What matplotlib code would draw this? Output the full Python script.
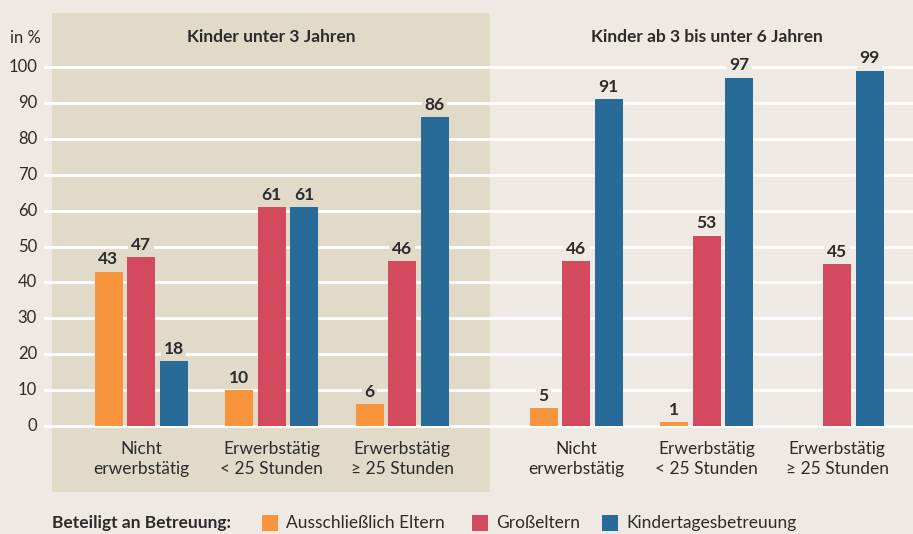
import numpy as np
import matplotlib
matplotlib.use("Agg")
import matplotlib.pyplot as plt
from matplotlib.patches import Rectangle

# Daten
kategorien = ["Nicht\nerwerbstätig", "Erwerbstätig\n< 25 Stunden", "Erwerbstätig\n≥ 25 Stunden"]
panels = ["Kinder unter 3 Jahren", "Kinder ab 3 bis unter 6 Jahren"]
serien = ["Ausschließlich Eltern", "Großeltern", "Kindertagesbetreuung"]
eltern = [43, 10, 6, 5, 1, 0]
grosseltern = [47, 61, 46, 46, 53, 45]
kita = [18, 61, 86, 91, 97, 99]
y_ticks = [0, 10, 20, 30, 40, 50, 60, 70, 80, 90, 100]

farben = ["#f7943c", "#d34a5f", "#296b98"]
bg = "#eeeae3"
panel_bg = "#e1dac8"
txt = "#2b2b2b"

plt.rcParams['font.family'] = ['Lato', 'DejaVu Sans']

W, H = 913, 534
fig = plt.figure(figsize=(W / 100, H / 100), dpi=100, facecolor=bg)

# Achse in Pixelkoordinaten: x 44..913, y 13..492
ax = fig.add_axes([44 / W, (H - 492) / H, (913 - 44) / W, (492 - 13) / H])
ax.set_facecolor(bg)
for s in ax.spines.values():
    s.set_visible(False)

px_y = 3.59  # Pixel pro Prozentpunkt
y0_px = 426
ax.set_ylim(-(492 - y0_px) / px_y, (y0_px - 13) / px_y)
step = 130.5
ax.set_xlim((44 - 141) / step, (913 - 141) / step)

x = np.array([0, 1, 2, 3 + 1 / 3, 4 + 1 / 3, 5 + 1 / 3])
bw = 28 / step
off = 32.5 / step

# Hintergrund linkes Panel
ax.axvspan((52 - 141) / step, (490 - 141) / step, color=panel_bg, zorder=0, lw=0)

for t in y_ticks:
    ax.axhline(t, xmin=0, xmax=1, color="white", lw=2, zorder=1)

ax.set_yticks([])
ax.set_xticks([])
for t in y_ticks:
    fig.text(37 / W, 1 - (y0_px - t * px_y) / H, str(t), ha="right", va="center",
             fontsize=12, color=txt)
fig.text(10 / W, 1 - 38 / H, "in %", ha="left", va="center", fontsize=12, color=txt)

for i, (werte, f) in enumerate(zip([eltern, grosseltern, kita], farben)):
    xs = x + (i - 1) * off
    ax.bar(xs, werte, width=bw, color=f, zorder=2, lw=0)
    for j, (xx, v) in enumerate(zip(xs, werte)):
        if v == 0:
            continue
        box = panel_bg if j < 3 else bg
        ax.text(xx, v + 1.2, str(v), ha="center", va="bottom", fontsize=12.5,
                fontweight="bold", color=txt, zorder=3,
                bbox=dict(boxstyle="square,pad=0.15", fc=box, ec="none"))

# Kategorien
for j, xx in enumerate(x):
    ax.text(xx, -4.3, kategorien[j % 3], ha="center", va="top", fontsize=12.5,
            color=txt, linespacing=1.3)

# Panel-Titel
ax.text(1, (y0_px - 37) / px_y, panels[0], ha="center", va="center", fontsize=12.5,
        fontweight="bold", color=txt)
ax.text(4 + 1 / 3, (y0_px - 37) / px_y, panels[1], ha="center", va="center",
        fontsize=12.5, fontweight="bold", color=txt)

# Legende
ly = 1 - 523 / H
fig.text(52 / W, ly, "Beteiligt an Betreuung:", ha="left", va="center", fontsize=12.5,
         fontweight="bold", color=txt)
leg_x = [262, 472, 602]
for lx, f, name in zip(leg_x, farben, serien):
    fig.patches.append(Rectangle((lx / W, ly - 8 / H), 16 / W, 16 / H,
                                 transform=fig.transFigure, color=f, lw=0))
    fig.text((lx + 24) / W, ly, name, ha="left", va="center", fontsize=12.5, color=txt)

fig.savefig("out.png", dpi=100, facecolor=bg)
